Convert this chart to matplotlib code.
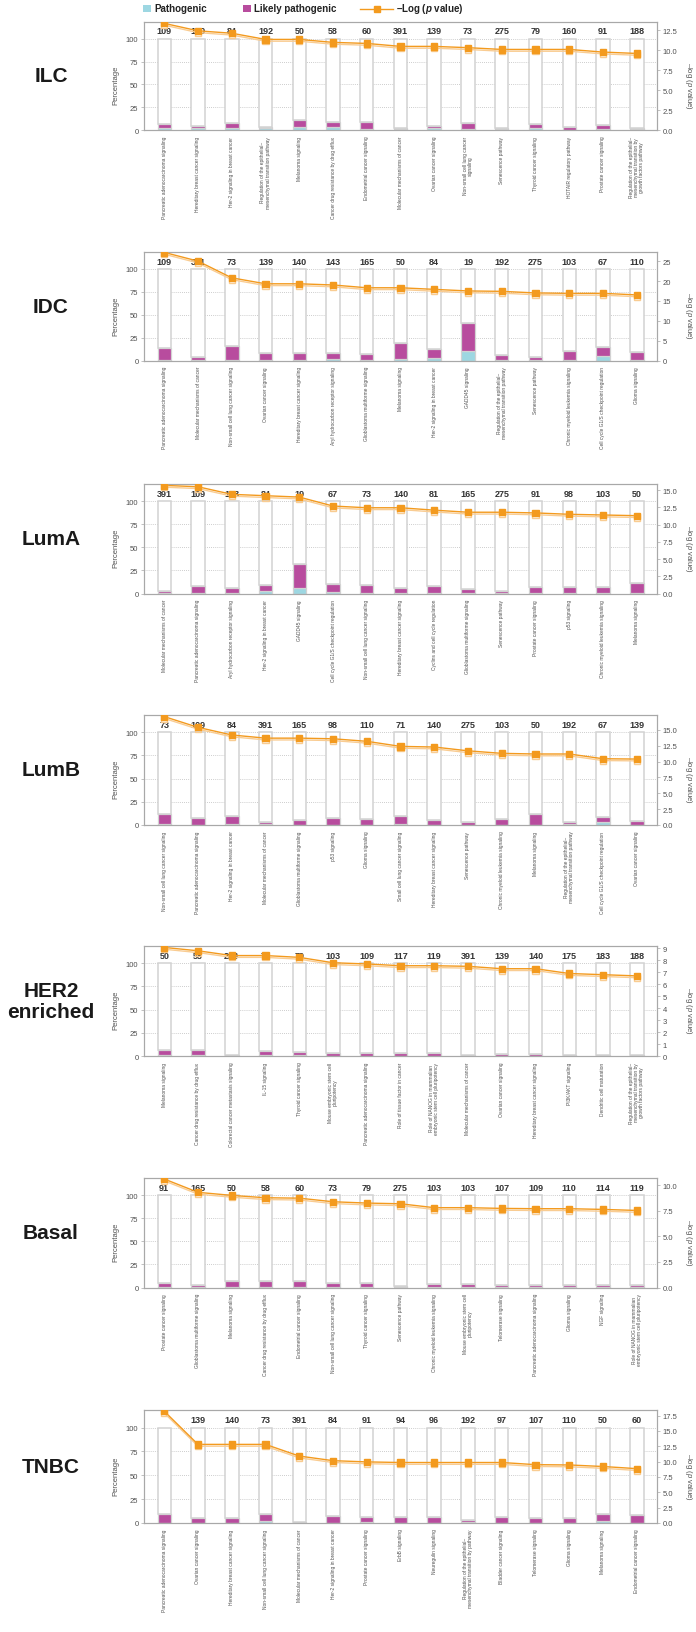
import numpy as np
import matplotlib
matplotlib.use("Agg")
import matplotlib.pyplot as plt
from matplotlib import font_manager, patheffects as pe
from matplotlib.patches import Rectangle
from matplotlib.lines import Line2D
from matplotlib.ticker import FormatStrFormatter, MultipleLocator

names = {f.name for f in font_manager.fontManager.ttflist}
BASE = "Liberation Sans" if "Liberation Sans" in names else "DejaVu Sans"
NARROW = "Liberation Sans Narrow" if "Liberation Sans Narrow" in names else BASE
plt.rcParams["font.family"] = [BASE, "DejaVu Sans"]
plt.rcParams["mathtext.fontset"] = "custom"
plt.rcParams["mathtext.rm"] = BASE
plt.rcParams["mathtext.it"] = BASE + ":italic"
plt.rcParams["mathtext.bf"] = BASE + ":bold:italic"

# ---------------- data ----------------
ilc_pathways = ["Pancreatic adenocarcinoma signaling", "Hereditary breast cancer signaling",
                "Her-2 signaling in breast cancer",
                "Regulation of the epithelial–\nmesenchymal transition pathway",
                "Melanoma signaling", "Cancer drug resistance by drug efflux",
                "Endometrial cancer signaling", "Molecular mechanisms of cancer",
                "Ovarian cancer signaling", "Non-small cell lung cancer\nsignaling",
                "Senescence pathway", "Thyroid cancer signaling", "HOTAIR regulatory pathway",
                "Prostate cancer signaling",
                "Regulation of the epithelial–\nmesenchymal transition by\ngrowth factors pathway"]
ilc_counts = ["109", "140", "84", "192", "50", "58", "60", "391", "139", "73", "275", "79", "160", "91", "188"]
ilc_pathogenic = [2.5, 2, 2.5, 2, 4, 3.5, 1.5, 1, 2, 1.5, 1, 2.5, 0.3, 1, 1]
ilc_likely = [4, 3, 5, 1.5, 7.5, 6, 8, 1, 2.5, 6.5, 2, 4.5, 3.5, 5, 2]
ilc_logp = [13.33, 12.4, 12.1, 11.33, 11.33, 10.96, 10.83, 10.46, 10.46, 10.3, 10.08, 10.08, 10.08, 9.75, 9.58]

idc_pathways = ["Pancreatic adenocarcinoma signaling", "Molecular mechanisms of cancer",
                "Non-small cell lung cancer signaling", "Ovarian cancer signaling",
                "Hereditary breast cancer signaling", "Aryl hydrocarbon receptor signaling",
                "Glioblastoma multiforme signaling", "Melanoma signaling",
                "Her-2 signaling in breast cancer", "GADD45 signaling",
                "Regulation of the epithelial–\nmesenchymal transition pathway",
                "Senescence pathway", "Chronic myeloid leukemia signaling",
                "Cell cycle G1/S checkpoint regulation", "Glioma signaling"]
idc_counts = ["109", "391", "73", "139", "140", "143", "165", "50", "84", "19", "192", "275", "103", "67", "110"]
idc_pathogenic = [0.5, 0.5, 1, 0.5, 0.5, 2, 0.5, 1.5, 2.5, 10, 0.2, 0.5, 1, 4.5, 0.5]
idc_likely = [13.5, 3.5, 15, 8, 8, 6.5, 6.5, 18, 10, 31.5, 6, 3.5, 9, 10, 9]
idc_logp = [27.2, 25.0, 20.8, 19.3, 19.3, 19.0, 18.3, 18.3, 17.9, 17.5, 17.4, 17.0, 16.9, 16.9, 16.5]

luma_pathways = ["Molecular mechanisms of cancer", "Pancreatic adenocarcinoma signaling",
                 "Aryl hydrocarbon receptor signaling", "Her-2 signaling in breast cancer",
                 "GADD45 signaling", "Cell cycle G1/S checkpoint regulation",
                 "Non-small cell lung cancer signaling", "Hereditary breast cancer signaling",
                 "Cyclins and cell cycle regulation", "Glioblastoma multiforme signaling",
                 "Senescence pathway", "Prostate cancer signaling", "p53 signaling",
                 "Chronic myeloid leukemia signaling", "Melanoma signaling"]
luma_counts = ["391", "109", "143", "84", "19", "67", "73", "140", "81", "165", "275", "91", "98", "103", "50"]
luma_pathogenic = [1, 1, 1, 3, 6, 1.5, 0.5, 0.5, 1, 1, 0.2, 1, 0.5, 0.5, 0.3]
luma_likely = [2, 7, 5, 6.5, 25.5, 9, 9, 5, 7.5, 3.5, 3, 6.5, 6.5, 6, 11.5]
luma_logp = [15.7, 15.5, 14.4, 14.2, 14.0, 12.7, 12.45, 12.45, 12.1, 11.8, 11.8, 11.7, 11.5, 11.4, 11.3]

lumb_pathways = ["Non-small cell lung cancer signaling", "Pancreatic adenocarcinoma signaling",
                 "Her-2 signaling in breast cancer", "Molecular mechanisms of cancer",
                 "Glioblastoma multiforme signaling", "p53 signaling", "Glioma signaling",
                 "Small cell lung cancer signaling", "Hereditary breast cancer signaling",
                 "Senescence pathway", "Chronic myeloid leukemia signaling", "Melanoma signaling",
                 "Regulation of the epithelial–\nmesenchymal transition pathway",
                 "Cell cycle G1/S checkpoint regulation", "Ovarian cancer signaling"]
lumb_counts = ["73", "109", "84", "391", "165", "98", "110", "71", "140", "275", "103", "50", "192", "67", "139"]
lumb_pathogenic = [1.5, 0.5, 1, 1, 0.5, 0.5, 0.5, 1.5, 0.5, 0.5, 0.5, 0.5, 1, 3.5, 0.5]
lumb_likely = [10.5, 7.5, 8.5, 2, 5, 7, 6.5, 8, 5, 2.5, 6, 11.5, 2.5, 5, 4]
lumb_logp = [17.1, 15.4, 14.2, 13.7, 13.7, 13.6, 13.2, 12.4, 12.3, 11.7, 11.3, 11.2, 11.2, 10.45, 10.4]

her2_pathways = ["Melanoma signaling", "Cancer drug resistance by drug efflux",
                 "Colorectal cancer metastasis signaling", "IL-15 signaling",
                 "Thyroid cancer signaling", "Mouse embryonic stem cell\npluripotency",
                 "Pancreatic adenocarcinoma signaling", "Role of tissue factor in cancer",
                 "Role of NANOG in mammalian\nembryonic stem cell pluripotency",
                 "Molecular mechanisms of cancer", "Ovarian cancer signaling",
                 "Hereditary breast cancer signaling", "PI3K/AKT signaling",
                 "Dendritic cell maturation",
                 "Regulation of the epithelial–\nmesenchymal transition by\ngrowth factors pathway"]
her2_counts = ["50", "58", "283", "75", "79", "103", "109", "117", "119", "391", "139", "140", "175", "183", "188"]
her2_pathogenic = [1.5, 1.5, 0.5, 1, 1, 0.5, 0.5, 0.5, 0.5, 0.3, 0.3, 0.3, 0.3, 0.3, 0.3]
her2_likely = [5.5, 5, 0.5, 4, 3, 3, 3, 2.5, 2.5, 0.5, 1.5, 1.5, 1.2, 1.2, 1.2]
her2_logp = [9.08, 8.8, 8.4, 8.4, 8.25, 7.8, 7.7, 7.55, 7.55, 7.5, 7.3, 7.3, 6.9, 6.8, 6.7]

basal_pathways = ["Prostate cancer signaling", "Glioblastoma multiforme signaling",
                  "Melanoma signaling", "Cancer drug resistance by drug efflux",
                  "Endometrial cancer signaling", "Non-small cell lung cancer signaling",
                  "Thyroid cancer signaling", "Senescence pathway",
                  "Chronic myeloid leukemia signaling",
                  "Mouse embryonic stem cell\npluripotency", "Telomerase signaling",
                  "Pancreatic adenocarcinoma signaling", "Glioma signaling", "NGF signaling",
                  "Role of NANOG in mammalian\nembryonic stem cell pluripotency"]
basal_counts = ["91", "165", "50", "58", "60", "73", "79", "275", "103", "103", "107", "109", "110", "114", "119"]
basal_pathogenic = [0.5, 0.5, 0.5, 0.5, 0.5, 0.5, 0.5, 0.3, 0.5, 0.5, 0.5, 0.5, 0.5, 0.5, 0.5]
basal_likely = [4.5, 2.5, 7, 6, 6, 4.5, 4.5, 1.2, 3, 3, 2.5, 2.5, 2.5, 2.5, 2.5]
basal_logp = [10.6, 9.3, 9.0, 8.77, 8.73, 8.38, 8.25, 8.18, 7.8, 7.8, 7.73, 7.7, 7.7, 7.63, 7.53]

tnbc_pathways = ["Pancreatic adenocarcinoma signaling", "Ovarian cancer signaling",
                 "Hereditary breast cancer signaling", "Non-small cell lung cancer signaling",
                 "Molecular mechanisms of cancer", "Her-2 signaling in breast cancer",
                 "Prostate cancer signaling", "ErbB signaling", "Neuregulin signaling",
                 "Regulation of the epithelial–\nmesenchymal transition by pathway",
                 "Bladder cancer signaling", "Telomerase signaling", "Glioma signaling",
                 "Melanoma signaling", "Endometrial cancer signaling"]
tnbc_counts = ["", "139", "140", "73", "391", "84", "91", "94", "96", "192", "97", "107", "110", "50", "60"]
tnbc_pathogenic = [0.5, 0.5, 0.5, 2, 0.5, 0.5, 1, 0.5, 0.5, 1, 0.5, 0.5, 0.5, 2, 0.5]
tnbc_likely = [8.5, 5, 5, 7, 1, 6.5, 5.5, 5.5, 5.5, 2, 5.5, 4.5, 4.5, 7.5, 7.5]
tnbc_logp = [18.2, 12.8, 12.8, 12.8, 10.9, 10.15, 9.95, 9.85, 9.85, 9.85, 9.85, 9.5, 9.45, 9.2, 8.85]

panel_names = ["ILC", "IDC", "LumA", "LumB", "HER2\nenriched", "Basal", "TNBC"]

# ---------------- layout / style ----------------
W, H = 696, 1633
C_P = "#9dd7e2"
C_LP = "#b84c9e"
ORANGE = "#f39a1e"
SHADOW = "#f9cc92"
EDGE = "#d2d2d2"
SPINE = "#a8a8a8"
TXT = "#505050"

panels = [
    (ilc_pathways, ilc_counts, ilc_pathogenic, ilc_likely, ilc_logp, 22.6, 131.3, 13.55, 2.5, "%.1f"),
    (idc_pathways, idc_counts, idc_pathogenic, idc_likely, idc_logp, 253.0, 361.5, 27.3, 5, "%d"),
    (luma_pathways, luma_counts, luma_pathogenic, luma_likely, luma_logp, 485.0, 594.5, 15.9, 2.5, "%.1f"),
    (lumb_pathways, lumb_counts, lumb_pathogenic, lumb_likely, lumb_logp, 716.0, 826.0, 17.35, 2.5, "%.1f"),
    (her2_pathways, her2_counts, her2_pathogenic, her2_likely, her2_logp, 947.0, 1057.0, 9.2, 1, "%d"),
    (basal_pathways, basal_counts, basal_pathogenic, basal_likely, basal_logp, 1179.0, 1288.5, 10.7, 2.5, "%.1f"),
    (tnbc_pathways, tnbc_counts, tnbc_pathogenic, tnbc_likely, tnbc_logp, 1411.0, 1524.0, 18.4, 2.5, "%.1f"),
]

fig = plt.figure(figsize=(W / 100, H / 100), dpi=100)
fig.patch.set_facecolor("white")

LEFT, RIGHT = 144, 657
shadow_fx = [pe.SimpleLineShadow(offset=(0, -1.3), shadow_color=SHADOW, alpha=1.0), pe.Normal()]

for name, (paths, counts, pat, lik, logp, top, bot, rtop, rstep, rfmt) in zip(panel_names, panels):
    ax = fig.add_axes([LEFT / W, 1 - bot / H, (RIGHT - LEFT) / W, (bot - top) / H])
    x = np.arange(len(paths))
    pat = np.array(pat, dtype=float)
    lik = np.array(lik, dtype=float)
    rest = 100 - pat - lik
    bw = 0.4
    ax.bar(x, pat, width=bw, color=C_P, edgecolor=EDGE, linewidth=0.9, zorder=2)
    ax.bar(x, lik, width=bw, bottom=pat, color=C_LP, edgecolor=EDGE, linewidth=0.9, zorder=2)
    ax.bar(x, rest, width=bw, bottom=pat + lik, color="white", edgecolor=EDGE, linewidth=1.1, zorder=2)
    for xi, c in zip(x, counts):
        ax.text(xi, 108.3, c, ha="center", va="center", fontsize=6.5, fontweight="bold",
                color="#333333", zorder=3)
    ax.set_xlim(-0.6, len(paths) - 0.4)
    ax.set_ylim(0, 118.5)
    ax.set_yticks([0, 25, 50, 75, 100])
    ax.yaxis.grid(True, linestyle=(0, (1, 1.5)), color="#bdbdbd", linewidth=0.6)
    ax.set_axisbelow(True)
    ax.set_xticks(x)
    ax.set_xticklabels(paths, rotation=90, fontsize=3.5, color=TXT, linespacing=1.05)
    ax.tick_params(axis="x", length=0, pad=4)
    ax.tick_params(axis="y", length=2, width=0.5, color=SPINE, labelsize=5.5, labelcolor=TXT, pad=2)
    for s in ax.spines.values():
        s.set_color(SPINE)
        s.set_linewidth(0.8)
    ax.set_ylabel("Percentage", fontsize=5.5, color=TXT, va="center")
    ax.yaxis.set_label_coords(-0.055, 0.42)

    ax2 = ax.twinx()
    ax2.plot(x, logp, color=ORANGE, lw=1.0, marker="s", ms=4.5, mec=ORANGE, mfc=ORANGE,
             path_effects=shadow_fx, zorder=4)
    ax2.set_ylim(0, rtop)
    ax2.yaxis.set_major_locator(MultipleLocator(rstep))
    ax2.yaxis.set_major_formatter(FormatStrFormatter(rfmt))
    ax2.tick_params(axis="y", length=2, width=0.5, color=SPINE, labelsize=5.5, labelcolor=TXT, pad=2)
    for s in ax2.spines.values():
        s.set_color(SPINE)
        s.set_linewidth(0.8)
    ax2.set_ylabel("–log ($p$ value)", fontsize=5.5, color=TXT, rotation=270,
                   ha="center", va="center")
    ax2.yaxis.set_label_coords(1.0605, 0.42)

    mid = 1 - ((top + bot) / 2) / H
    fig.text(51 / W, mid, name, ha="center", va="center", fontsize=15, fontweight="bold",
             family=[NARROW, "DejaVu Sans"], color="#1a1a1a", linespacing=1.15)

# ---------------- legend ----------------
def fx(px):
    return px / W

def fy(py):
    return 1 - py / H

ly = 9.5
sq = 7.5
fig.add_artist(Rectangle((fx(143), fy(ly + sq / 2)), sq / W, sq / H, transform=fig.transFigure,
                         facecolor=C_P, edgecolor="none"))
fig.text(fx(154), fy(ly), "Pathogenic", ha="left", va="center", fontsize=7, fontweight="bold",
         color="#222222")
fig.add_artist(Rectangle((fx(243), fy(ly + sq / 2)), sq / W, sq / H, transform=fig.transFigure,
                         facecolor=C_LP, edgecolor="none"))
fig.text(fx(254), fy(ly), "Likely pathogenic", ha="left", va="center", fontsize=7,
         fontweight="bold", color="#222222")
fig.add_artist(Line2D([fx(360), fx(393)], [fy(ly), fy(ly)], transform=fig.transFigure,
                      color=ORANGE, lw=1.0))
fig.add_artist(Line2D([fx(376.5)], [fy(ly)], transform=fig.transFigure, color=ORANGE,
                      marker="s", ms=4.5, lw=0))
fig.text(fx(396), fy(ly), "–Log ($\\mathbf{p}$ value)", ha="left", va="center", fontsize=7,
         fontweight="bold", color="#222222")

fig.savefig("out.png", dpi=100, facecolor="white")
